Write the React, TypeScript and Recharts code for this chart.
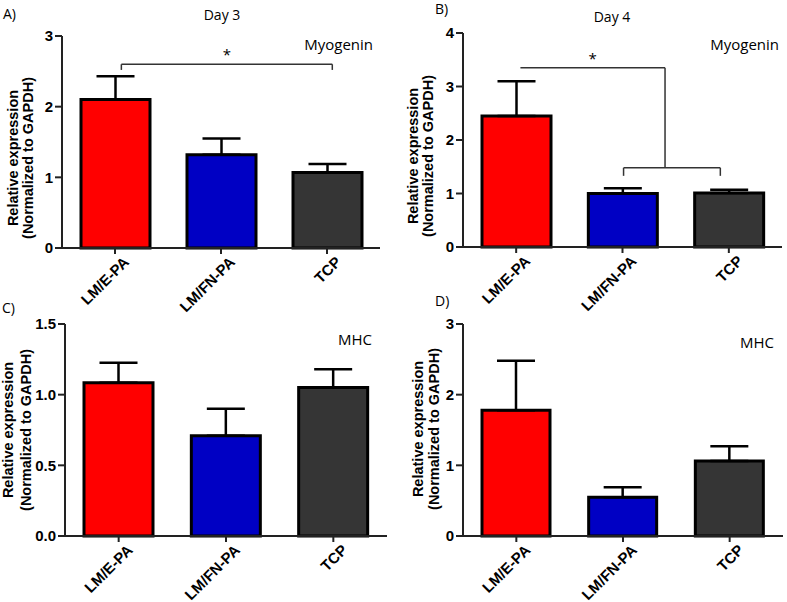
import { BarChart, Bar, Cell, XAxis, YAxis, ErrorBar, ReferenceLine } from "recharts";

const GROUPS = ["LM/E-PA", "LM/FN-PA", "TCP"];
const BAR_COLORS = ["#ff0000", "#0000c4", "#353535"];

// A) Day 3 Myogenin
const D3_MYOG = [2.1, 1.32, 1.07];
const D3_MYOG_SEM = [0.33, 0.23, 0.12];
// B) Day 4 Myogenin
const D4_MYOG = [2.45, 1.0, 1.01];
const D4_MYOG_SEM = [0.65, 0.1, 0.06];
// C) Day 3 MHC
const D3_MHC = [1.085, 0.71, 1.05];
const D3_MHC_SEM = [0.14, 0.19, 0.13];
// D) Day 4 MHC
const D4_MHC = [1.78, 0.55, 1.06];
const D4_MHC_SEM = [0.7, 0.14, 0.21];

const TICKS_A = [0, 1, 2, 3];
const TICKS_B = [0, 1, 2, 3, 4];
const TICKS_C = [0, 0.5, 1, 1.5];
const TICKS_D = [0, 1, 2, 3];

// significance brackets as [group index, value] segments
const BRACKETS_A = [
  [[0.06, 2.52], [0.06, 2.6]],
  [[0.06, 2.6], [2.05, 2.6]],
  [[2.05, 2.6], [2.05, 2.52]],
];
const BRACKETS_B = [
  [[0.04, 3.35], [1.4, 3.35]],
  [[1.4, 3.35], [1.4, 1.48]],
  [[1.01, 1.48], [1.92, 1.48]],
  [[1.01, 1.48], [1.01, 1.33]],
  [[1.92, 1.48], [1.92, 1.33]],
];

const AXIS_FONT = "'Liberation Sans', Arial, sans-serif";
const TITLE_FONT = "'Open Sans', sans-serif";

function RotTick(props: any) {
  const { x, y, payload } = props;
  const ax = x + 15;
  const ay = y + 7;
  return (
    <text
      x={ax}
      y={ay}
      transform={`rotate(-45, ${ax}, ${ay})`}
      textAnchor="end"
      fontFamily={AXIS_FONT}
      fontWeight="bold"
      fontSize={15}
      fill="#000"
    >
      {payload.value}
    </text>
  );
}

type PanelProps = {
  left: number;
  top: number;
  width: number;
  height: number;
  margin: { top: number; right: number; left: number; bottom: number };
  yWidth: number;
  xHeight: number;
  ticks: number[];
  values: number[];
  sems: number[];
  fmt?: (v: number) => string;
  brackets?: number[][][];
  barSize: number;
};

function Panel(p: PanelProps) {
  const rows = GROUPS.map((name, i) => ({
    name,
    idx: i,
    value: p.values[i],
    err: [0, p.sems[i]],
  }));
  const max = p.ticks[p.ticks.length - 1];
  return (
    <div style={{ position: "absolute", left: p.left, top: p.top }}>
      <BarChart width={p.width} height={p.height} data={rows} margin={p.margin}>
        <XAxis
          dataKey="name"
          height={p.xHeight}
          interval={0}
          tickSize={6}
          tickMargin={2}
          tickLine={{ stroke: "#222", strokeWidth: 2 }}
          axisLine={{ stroke: "#222", strokeWidth: 2 }}
          tick={<RotTick />}
        />
        <XAxis
          xAxisId="top"
          dataKey="name"
          orientation="top"
          height={0}
          tick={false}
          tickLine={false}
          axisLine={{ stroke: "#333", strokeWidth: 1.5 }}
        />
        <XAxis xAxisId="num" dataKey="idx" type="number" domain={[-0.5, 2.5]} hide />
        <YAxis
          domain={[0, max]}
          ticks={p.ticks}
          width={p.yWidth}
          interval={0}
          tickSize={7}
          tickMargin={2}
          tickFormatter={p.fmt}
          tickLine={{ stroke: "#222", strokeWidth: 2 }}
          axisLine={{ stroke: "#222", strokeWidth: 2 }}
          tick={{ fill: "#000", fontSize: 15, fontWeight: "bold", fontFamily: AXIS_FONT }}
        />
        <YAxis
          yAxisId="right"
          orientation="right"
          width={0}
          domain={[0, 1]}
          tick={false}
          tickLine={false}
          axisLine={{ stroke: "#333", strokeWidth: 1.5 }}
        />
        <Bar dataKey="value" barSize={p.barSize} stroke="#000" strokeWidth={3} isAnimationActive={false}>
          {rows.map((r, i) => (
            <Cell key={r.name} fill={BAR_COLORS[i]} />
          ))}
          <ErrorBar dataKey="err" direction="y" width={19} stroke="#000" strokeWidth={2.5} isAnimationActive={false} />
        </Bar>
        {(p.brackets ?? []).map((seg, i) => (
          <ReferenceLine
            key={i}
            xAxisId="num"
            segment={[
              { x: seg[0][0], y: seg[0][1] },
              { x: seg[1][0], y: seg[1][1] },
            ]}
            stroke="#333"
            strokeWidth={1.5}
            ifOverflow="visible"
            label={
              i === (p.brackets!.length === 3 ? 1 : 0)
                ? { value: "*", position: "top", offset: 4, fill: "#000", fontSize: 15, fontFamily: TITLE_FONT }
                : undefined
            }
          />
        ))}
      </BarChart>
    </div>
  );
}

function YLabel({ x1, x2, cy }: { x1: number; x2: number; cy: number }) {
  const style = { fontFamily: AXIS_FONT, fontWeight: "bold" as const, fontSize: 14.5, fill: "#000" };
  return (
    <g>
      <text transform={`translate(${x1}, ${cy}) rotate(-90)`} textAnchor="middle" dominantBaseline="central" {...style}>
        Relative expression
      </text>
      <text transform={`translate(${x2}, ${cy}) rotate(-90)`} textAnchor="middle" dominantBaseline="central" {...style}>
        (Normalized to GAPDH)
      </text>
    </g>
  );
}

function Txt({ x, y, anchor = "start", size = 14, children }: any) {
  return (
    <text x={x} y={y} textAnchor={anchor} dominantBaseline="central" fontFamily={TITLE_FONT} fontSize={size} fill="#000">
      {children}
    </text>
  );
}

const fmt1 = (v: number) => v.toFixed(1);

export default function App() {
  return (
    <div style={{ position: "absolute", left: 0, top: 0, width: 787, height: 602, background: "#fff", overflow: "hidden" }}>
      <Panel
        left={390}
        top={300}
        width={397}
        height={322}
        margin={{ top: 24, right: 4, left: 0, bottom: 0 }}
        yWidth={73}
        xHeight={86}
        ticks={TICKS_D}
        values={D4_MHC}
        sems={D4_MHC_SEM}
        barSize={68}
      />
      <Panel
        left={0}
        top={300}
        width={390}
        height={322}
        margin={{ top: 24, right: 3, left: 0, bottom: 0 }}
        yWidth={65}
        xHeight={86}
        ticks={TICKS_C}
        values={D3_MHC}
        sems={D3_MHC_SEM}
        fmt={fmt1}
        barSize={69}
      />
      <Panel
        left={0}
        top={0}
        width={390}
        height={330}
        margin={{ top: 36, right: 10, left: 0, bottom: 0 }}
        yWidth={62}
        xHeight={82}
        ticks={TICKS_A}
        values={D3_MYOG}
        sems={D3_MYOG_SEM}
        brackets={BRACKETS_A}
        barSize={69}
      />
      <Panel
        left={390}
        top={0}
        width={397}
        height={330}
        margin={{ top: 33, right: 5, left: 0, bottom: 0 }}
        yWidth={73}
        xHeight={83}
        ticks={TICKS_B}
        values={D4_MYOG}
        sems={D4_MYOG_SEM}
        brackets={BRACKETS_B}
        barSize={69}
      />
      <svg width={787} height={602} style={{ position: "absolute", left: 0, top: 0, pointerEvents: "none" }}>
        <YLabel x1={13} x2={28} cy={158} />
        <YLabel x1={413} x2={428} cy={156} />
        <YLabel x1={8} x2={26} cy={430} />
        <YLabel x1={418} x2={434} cy={429} />
        <Txt x={3} y={13}>A)</Txt>
        <Txt x={222} y={14} anchor="middle">Day 3</Txt>
        <Txt x={373} y={44} anchor="end" size={15}>Myogenin</Txt>
        <Txt x={435} y={8}>B)</Txt>
        <Txt x={612} y={16} anchor="middle">Day 4</Txt>
        <Txt x={779} y={44} anchor="end" size={15}>Myogenin</Txt>
        <Txt x={2} y={307}>C)</Txt>
        <Txt x={372} y={339} anchor="end" size={15}>MHC</Txt>
        <Txt x={435} y={300}>D)</Txt>
        <Txt x={774} y={342} anchor="end" size={15}>MHC</Txt>
      </svg>
    </div>
  );
}
